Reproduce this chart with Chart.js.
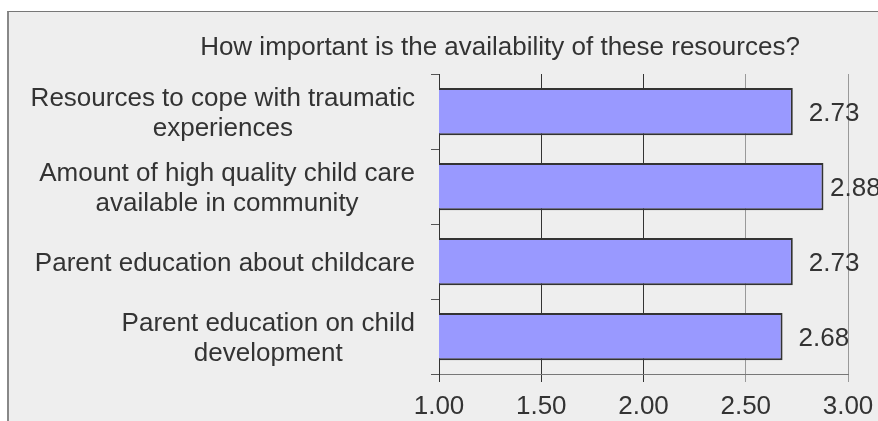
<!DOCTYPE html>
<html>
<head>
<meta charset="utf-8">
<script src="https://cdn.jsdelivr.net/npm/chart.js@4.4.1/dist/chart.umd.min.js"></script>
<style>
  html, body { margin: 0; padding: 0; background: #fff; }
  #wrap { position: relative; width: 878px; height: 421px; overflow: hidden; }
  #panel { position: absolute; left: 7px; top: 11px; width: 900px; height: 450px; background: #eeeeee; border-top: 1px solid #777; border-left: 2px solid #888; }
  #my_chart { position: absolute; left: 0; top: 0; }
</style>
</head>
<body>
<div id="wrap">
  <div id="panel"></div>
  <canvas id="my_chart" width="878" height="421"></canvas>
</div>
<script>
var chart_title = "How important is the availability of these resources?"

// each category is split into the lines it is printed on
var categories = [
    ["Resources to cope with traumatic", "experiences"],
    ["Amount of high quality child care", "available in community"],
    ["Parent education about childcare"],
    ["Parent education on child", "development"]
]
var mean_scores = [2.73, 2.88, 2.73, 2.68]

var axis_min = 1
var axis_max = 3
var axis_step = 0.5

var font_family = "'Liberation Sans', Arial, sans-serif"
var text_color = "#333"

// title, category labels and value labels drawn on top of the chart
var text_plugin = {
    id: 'text_plugin',
    afterDraw(chart) {
        var ctx = chart.ctx
        var y_scale = chart.scales.y
        ctx.save()
        ctx.font = "26px " + font_family
        ctx.fillStyle = text_color
        ctx.textBaseline = 'alphabetic'

        ctx.textAlign = 'center'
        ctx.fillText(chart_title, 500, 55)

        // lines centred on each other, block right-aligned next to the axis
        var right = y_scale.right - 8 - 16
        categories.forEach(function(lines, i) {
            var w = Math.max.apply(null, lines.map(function(l) { return ctx.measureText(l).width }))
            var cx = right - w / 2
            var cy = y_scale.getPixelForTick(i)
            lines.forEach(function(l, j) {
                ctx.fillText(l, cx, cy + (j - (lines.length - 1) / 2) * 30 + 9)
            })
        })

        ctx.textAlign = 'left'
        chart.getDatasetMeta(0).data.forEach(function(bar, i) {
            var tx = Math.min(bar.x + 16, chart.width - 48)
            ctx.fillText(mean_scores[i].toFixed(2), tx, bar.y + 9)
        })
        ctx.restore()
    }
}

var ctx = document.getElementById("my_chart")
var my_chart = new Chart(ctx, {
    type: 'bar',
    data: {
        labels: categories,
        datasets: [{
            data: mean_scores,
            backgroundColor: '#9999ff',
            borderColor: '#333',
            borderWidth: 2,
            borderSkipped: false,
            barPercentage: 0.63,
            categoryPercentage: 1
        }]
    },
    options: {
        indexAxis: 'y',
        responsive: false,
        animation: false,
        layout: { padding: { top: 74, right: 30, left: 10, bottom: 0 } },
        plugins: {
            legend: { display: false },
            tooltip: { enabled: false },
            title: { display: false }
        },
        scales: {
            x: {
                min: axis_min,
                max: axis_max,
                ticks: {
                    stepSize: axis_step,
                    callback: function(v) { return v.toFixed(2) },
                    color: text_color,
                    font: { size: 26, family: font_family },
                    padding: 9,
                    maxRotation: 0
                },
                grid: {
                    color: function(c) { return c.tick && c.tick.value >= 2.5 ? '#999' : '#333' },
                    tickLength: 8
                },
                border: { color: '#777' },
                afterFit: function(s) {
                    s.height = 47
                    s.paddingLeft = 0
                    s.paddingRight = 0
                }
            },
            y: {
                ticks: { display: false },
                grid: { drawOnChartArea: false, tickLength: 8, color: '#555' },
                border: { color: '#333' },
                afterFit: function(s) { s.width = 429 }
            }
        }
    },
    plugins: [text_plugin]
})
</script>
</body>
</html>
